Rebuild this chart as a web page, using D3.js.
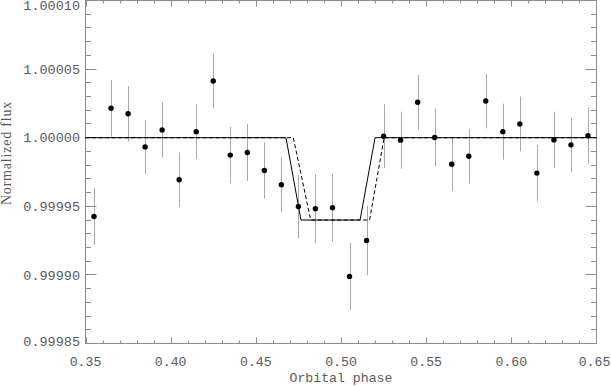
<!DOCTYPE html>
<html lang="en">
<head>
<meta charset="UTF-8">
<script src="https://d3js.org/d3.v7.min.js"></script>
<style>
  body { margin: 0; background: #fff; }
  svg { display: block; }
</style>
</head>
<body>
<div id="chart"></div>
<script>
// observed bins
const phase = [0.355, 0.365, 0.375, 0.385, 0.395, 0.405, 0.415, 0.425, 0.435, 0.445,
               0.455, 0.465, 0.475, 0.485, 0.495, 0.505, 0.515, 0.525, 0.535, 0.545,
               0.555, 0.565, 0.575, 0.585, 0.595, 0.605, 0.615, 0.625, 0.635, 0.645]
const flux = [0.9999426, 1.0000215, 1.0000175, 0.9999933, 1.0000057, 0.9999693, 1.0000044, 1.0000413, 0.9999873, 0.9999892,
              0.9999761, 0.9999657, 0.9999499, 0.9999482, 0.9999489, 0.9998989, 0.9999251, 1.0000011, 0.9999982, 1.0000258,
              1.0000001, 0.9999807, 0.9999865, 1.0000268, 1.0000044, 1.0000100, 0.9999742, 0.9999984, 0.9999948, 1.0000015]
const fluxErr = [0.0000206, 0.0000207, 0.0000203, 0.0000198, 0.0000202, 0.0000200, 0.0000200, 0.0000200, 0.0000206, 0.0000207,
                 0.0000205, 0.0000200, 0.0000231, 0.0000250, 0.0000246, 0.0000245, 0.0000253, 0.0000234, 0.0000208, 0.0000200,
                 0.0000209, 0.0000196, 0.0000199, 0.0000200, 0.0000204, 0.0000200, 0.0000206, 0.0000206, 0.0000197, 0.0000206]

// transit models
const modelSolidPhase = [0.35, 0.4677, 0.4765, 0.5112, 0.5200, 0.65]
const modelSolidFlux = [1.0, 1.0, 0.99994, 0.99994, 1.0, 1.0]
const modelDashPhase = [0.35, 0.4720, 0.4822, 0.5168, 0.5253, 0.65]
const modelDashFlux = [1.0, 1.0, 0.99994, 0.99994, 1.0, 1.0]

const xTicks = [0.35, 0.40, 0.45, 0.50, 0.55, 0.60, 0.65]
const yTicks = [0.99985, 0.99990, 0.99995, 1.00000, 1.00005, 1.00010]

const width = 611, height = 387
const axisColor = "#8c8c8c"
const textColor = "#5a5a5a"

const svg = d3.select("#chart").append("svg")
    .attr("width", width)
    .attr("height", height)

const x = d3.scaleLinear().domain([0.35, 0.65]).range([85.5, 596.5])
const y = d3.scaleLinear().domain([0.99985, 1.00010]).range([343.5, 0.5])

// minor tick positions
const xMinor = d3.range(0, 31).map(i => 0.35 + i * 0.01)
const yMinor = d3.range(0, 26).map(i => 0.99985 + i * 0.00001)

const axes = svg.append("g").attr("stroke", axisColor).attr("stroke-width", 1)

// frame
axes.append("rect")
    .attr("x", x(0.35)).attr("y", y(1.0001))
    .attr("width", x(0.65) - x(0.35))
    .attr("height", y(0.99985) - y(1.0001))
    .attr("fill", "none")

function isMajor(v, step) {
    return Math.abs(v / step - Math.round(v / step)) < 1e-6
}

// x ticks, bottom and top
xMinor.forEach(v => {
    const len = isMajor(v, 0.05) ? 6 : 3
    const px = Math.round(x(v)) + 0.5
    axes.append("line").attr("x1", px).attr("x2", px)
        .attr("y1", y.range()[0]).attr("y2", y.range()[0] - len)
    axes.append("line").attr("x1", px).attr("x2", px)
        .attr("y1", y.range()[1]).attr("y2", y.range()[1] + len)
})

// y ticks, left and right
yMinor.forEach(v => {
    const len = isMajor(v - 0.99985, 0.00005) ? 11 : 5.5
    const py = Math.round(y(v) - 0.5) + 0.5
    axes.append("line").attr("y1", py).attr("y2", py)
        .attr("x1", x.range()[0]).attr("x2", x.range()[0] + len)
    axes.append("line").attr("y1", py).attr("y2", py)
        .attr("x1", x.range()[1]).attr("x2", x.range()[1] - len)
})

// tick labels
svg.append("g").selectAll("text").data(xTicks).join("text")
    .attr("x", d => Math.min(x(d), 594.5))
    .attr("y", 366)
    .attr("text-anchor", "middle")
    .attr("font-family", "Liberation Mono, monospace")
    .attr("font-size", 13.2)
    .attr("fill", textColor)
    .text(d => d.toFixed(2))

svg.append("g").selectAll("text").data(yTicks).join("text")
    .attr("x", 80)
    .attr("y", d => Math.min(Math.max(y(d), 5), 341))
    .attr("dy", "0.35em")
    .attr("text-anchor", "end")
    .attr("font-family", "Liberation Mono, monospace")
    .attr("font-size", 13.5)
    .attr("fill", textColor)
    .text(d => d.toFixed(5))

// axis titles
svg.append("text")
    .attr("x", (x.range()[0] + x.range()[1]) / 2)
    .attr("y", 382)
    .attr("text-anchor", "middle")
    .attr("font-family", "Liberation Mono, monospace")
    .attr("font-size", 13.2)
    .attr("fill", textColor)
    .text("Orbital phase")

svg.append("text")
    .attr("transform", "translate(11,153) rotate(-90)")
    .attr("text-anchor", "middle")
    .attr("font-family", "Liberation Serif, serif")
    .attr("font-size", 14)
    .attr("letter-spacing", 0.8)
    .attr("fill", textColor)
    .text("Normalized flux")

// error bars
const pts = phase.map((p, i) => ({ p: p, f: flux[i], e: fluxErr[i] }))
svg.append("g").selectAll("line").data(pts).join("line")
    .attr("x1", d => Math.round(x(d.p)) + 0.5)
    .attr("x2", d => Math.round(x(d.p)) + 0.5)
    .attr("y1", d => y(d.f - d.e))
    .attr("y2", d => y(d.f + d.e))
    .attr("stroke", "#a8a8a8")
    .attr("stroke-width", 1)

// models
const line = d3.line().x(d => x(d[0])).y(d => y(d[1]))
svg.append("path")
    .datum(modelSolidPhase.map((p, i) => [p, modelSolidFlux[i]]))
    .attr("d", line)
    .attr("fill", "none")
    .attr("stroke", "#000")
    .attr("stroke-width", 1)

svg.append("path")
    .datum(modelDashPhase.map((p, i) => [p, modelDashFlux[i]]))
    .attr("d", line)
    .attr("fill", "none")
    .attr("stroke", "#000")
    .attr("stroke-width", 1)
    .attr("stroke-dasharray", "4,2.5")

// points
svg.append("g").selectAll("circle").data(pts).join("circle")
    .attr("cx", d => x(d.p))
    .attr("cy", d => y(d.f))
    .attr("r", 2.7)
    .attr("fill", "#000")
</script>
</body>
</html>
